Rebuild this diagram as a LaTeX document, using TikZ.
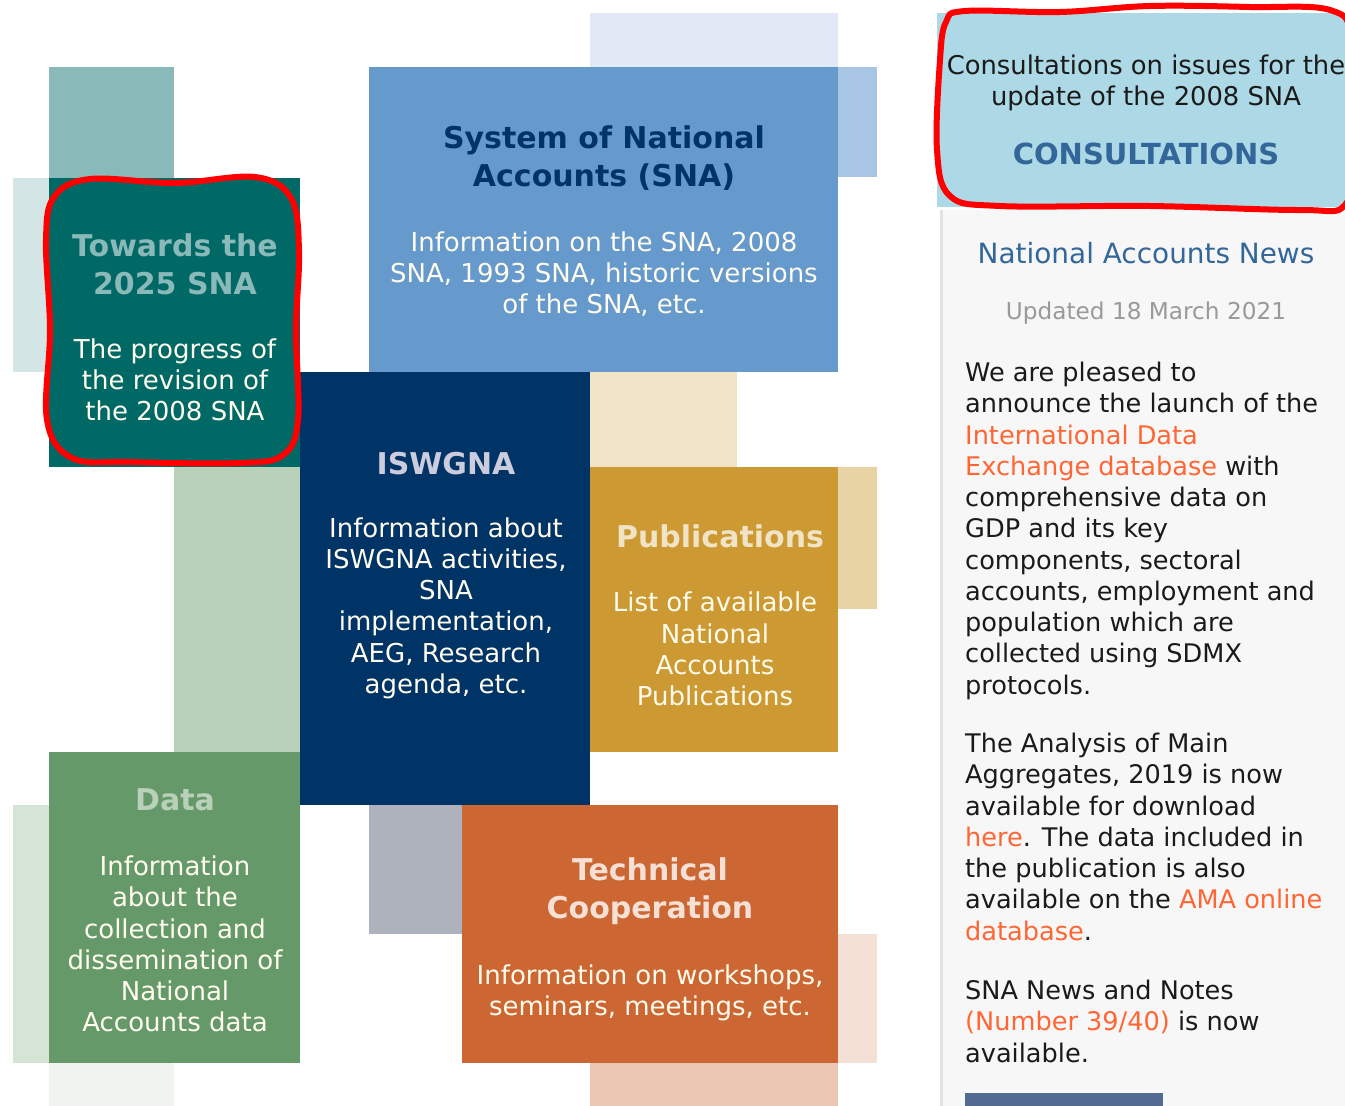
\documentclass[tikz,border=0pt]{standalone}
\usepackage{fontspec}
\setmainfont{DejaVu Sans}
\usetikzlibrary{positioning}
\definecolor{tealpale}{HTML}{D4E5E5}
\definecolor{teallight}{HTML}{8AB9B9}
\definecolor{tealdark}{HTML}{006865}
\definecolor{greenlight}{HTML}{B9D1B8}
\definecolor{greenmid}{HTML}{66996A}
\definecolor{greenpale}{HTML}{D6E4D6}
\definecolor{greenfaint}{HTML}{EFF4EF}
\definecolor{bluemid}{HTML}{6699CC}
\definecolor{bluepale}{HTML}{E1E9F5}
\definecolor{bluelight}{HTML}{A9C5E5}
\definecolor{navy}{HTML}{003366}
\definecolor{beige}{HTML}{F0E3C6}
\definecolor{gold}{HTML}{CC9933}
\definecolor{goldlight}{HTML}{E8D3A5}
\definecolor{slate}{HTML}{ADB2BD}
\definecolor{rust}{HTML}{CC6633}
\definecolor{rustpale}{HTML}{F5E0D6}
\definecolor{rustlight}{HTML}{EBC6B2}
\definecolor{consult}{HTML}{ADD8E6}
\definecolor{panel}{HTML}{F7F7F7}
\definecolor{panelline}{HTML}{E2E2E2}
\definecolor{headblue}{HTML}{336699}
\definecolor{linkorange}{HTML}{FF6633}
\definecolor{ink}{HTML}{1A1A1A}
\definecolor{cream}{HTML}{FFFCEE}
\definecolor{lavender}{HTML}{CCCCDD}
\definecolor{dategray}{HTML}{999999}
\definecolor{imgblue}{HTML}{536A92}
\newcommand\lnk[1]{\textcolor{linkorange}{#1}}
\tikzset{%
	card/.style={anchor=north west, inner sep=0pt, outer sep=0pt},
	head/.style={font=\bfseries\fontsize{30}{38}\selectfont, align=center},
	info/.style={font=\fontsize{26}{31.25}\selectfont, align=center, text=cream},
	news/.style={font=\fontsize{25.6}{31.25}\selectfont, align=left, anchor=north west,%
		inner sep=0pt, text=ink},
	scribble/.style={draw=red, line width=6pt, line join=round}
}
\begin{document}
\begin{tikzpicture}[x=1pt, y=-1pt]
	\useasboundingbox (0,0) rectangle (1345,1106);
	% pale side blocks
	\fill[teallight]  (49,67)    rectangle (174,178);
	\fill[tealpale]   (13,178)   rectangle (49,372);
	\fill[greenlight] (174,467)  rectangle (300,752);
	\fill[greenpale]  (13,805)   rectangle (49,1063);
	\fill[greenfaint] (49,1063)  rectangle (174,1106);
	\fill[bluepale]   (590,13)   rectangle (838,67);
	\fill[bluelight]  (838,67)   rectangle (877,177);
	\fill[beige]      (590,372)  rectangle (737,467);
	\fill[goldlight]  (838,467)  rectangle (877,609);
	\fill[slate]      (369,805)  rectangle (462,934);
	\fill[rustpale]   (838,934)  rectangle (877,1063);
	\fill[rustlight]  (590,1063) rectangle (838,1106);
	% main cards
	\node[card, fill=tealdark,  minimum width=251pt, minimum height=289pt] (towards) at (49,178)  {};
	\node[card, fill=bluemid,   minimum width=469pt, minimum height=305pt] (sna)     at (369,67)  {};
	\node[card, fill=navy,      minimum width=290pt, minimum height=433pt] (iswgna)  at (300,372) {};
	\node[card, fill=gold,      minimum width=248pt, minimum height=285pt] (pubs)    at (590,467) {};
	\node[card, fill=greenmid,  minimum width=251pt, minimum height=311pt] (data)    at (49,752)  {};
	\node[card, fill=rust,      minimum width=376pt, minimum height=258pt] (tech)    at (462,805) {};
	% card texts
	\node[head, text=teallight] (towardshead) at (175,264) {Towards the\\2025 SNA};
	\node[info]                 (towardsinfo) at (175,380) {The progress of\\the revision of\\the 2008 SNA};
	\node[head, text=navy]      (snahead)     at (604,158) {System of National\\Accounts (SNA)};
	\node[info]                 (snainfo)     at (604,274) {Information on the SNA, 2008\\SNA, 1993 SNA, historic versions\\of the SNA, etc.};
	\node[head, text=lavender]  (iswgnahead)  at (446,464) {ISWGNA};
	\node[info]                 (iswgnainfo)  at (446,608) {Information about\\ISWGNA activities,\\SNA\\implementation,\\AEG, Research\\agenda, etc.};
	\node[head, text=beige]     (pubshead)    at (720,536) {Publications};
	\node[info]                 (pubsinfo)    at (715,649) {List of available\\National\\Accounts\\Publications};
	\node[head, text=greenlight] (datahead)   at (175,800) {Data};
	\node[info]                 (datainfo)    at (175,944) {Information\\about the\\collection and\\dissemination of\\National\\Accounts data};
	\node[head, text=rustpale]  (techhead)    at (650,891) {Technical\\Cooperation};
	\node[info]                 (techinfo)    at (650,993) {Information on workshops,\\seminars, meetings, etc.};
	% right column
	\node[card, fill=consult, minimum width=408pt, minimum height=194pt] (consult) at (937,13) {};
	\node[card, fill=panel,   minimum width=405pt, minimum height=896pt] (panel)   at (940,210) {};
	\fill[panelline] (940,210) rectangle (943,1106);
	\node[font=\fontsize{25.8}{31.25}\selectfont, align=center, text=ink] (consulttext) at (1146,83)
		{Consultations on issues for the\\update of the 2008 SNA};
	\node[font=\bfseries\fontsize{29}{31}\selectfont, text=headblue] (consulthead) at (1146,154) {CONSULTATIONS};
	\node[font=\fontsize{27.9}{31}\selectfont, text=headblue] (newshead) at (1146,253) {National Accounts News};
	\node[font=\fontsize{23.2}{28}\selectfont, text=dategray] (newsdate) at (1146,313) {Updated 18 March 2021};
	\node[news] (item1) at (965,362) {We are pleased to\\announce the launch of the\\\lnk{International Data}\\%
		\lnk{Exchange database} with\\comprehensive data on\\GDP and its key\\components, sectoral\\%
		accounts, employment and\\population which are\\collected using SDMX\\protocols.};
	\node[news] (item2) at (965,733) {The Analysis of Main\\Aggregates, 2019 is now\\available for download\\%
		\lnk{here}. The data included in\\the publication is also\\available on the \lnk{AMA online}\\\lnk{database}.};
	\node[news] (item3) at (965,980) {SNA News and Notes\\\lnk{(Number 39/40)} is now\\available.};
	\fill[imgblue] (965,1093) rectangle (1163,1106);
	% red marks
	\draw[scribble] plot[smooth cycle, tension=0.6] coordinates {(90,179) (175,183) (255,177) (291,198)
		(299,250) (296,330) (298,420) (283,455) (240,463) (130,462) (72,458) (47,420) (50,330) (46,240) (54,197)};
	\draw[scribble] plot[smooth cycle, tension=0.6] coordinates {(965,11) (1060,12) (1150,6) (1250,7)
		(1330,10) (1352,40) (1354,150) (1345,205) (1300,210) (1150,206) (1000,206) (950,196) (937,150) (940,60) (946,22)};
\end{tikzpicture}
\end{document}
